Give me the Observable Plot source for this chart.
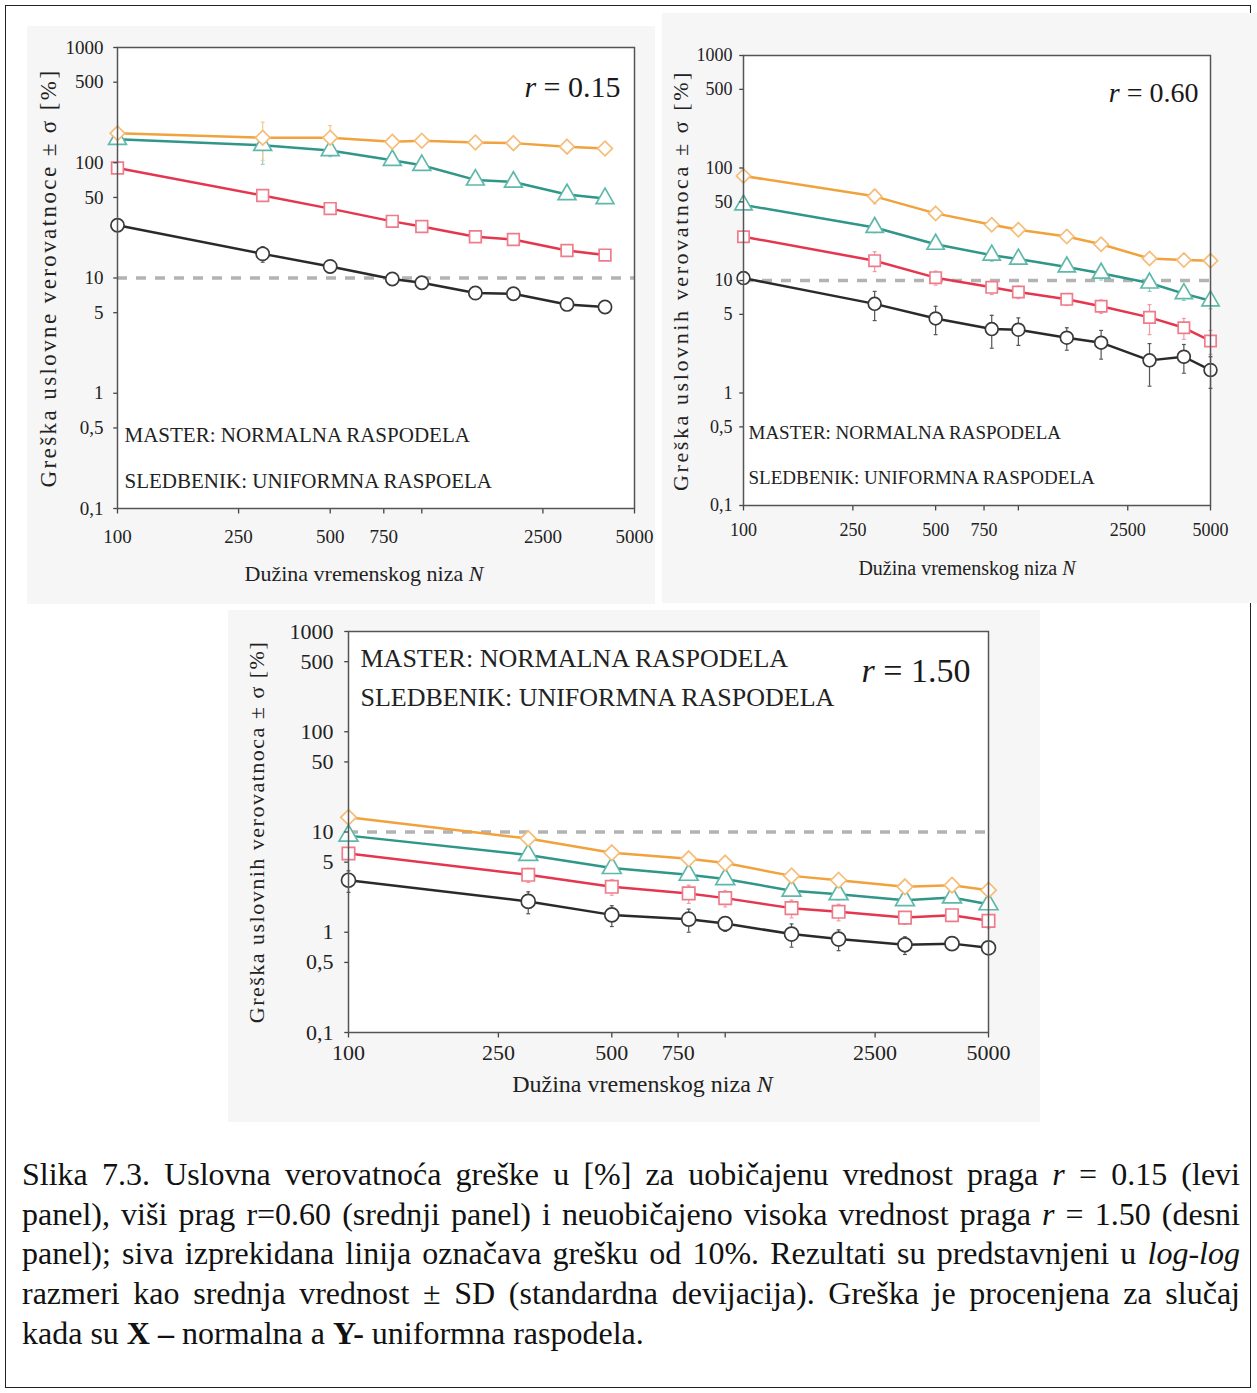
<!DOCTYPE html>
<html><head><meta charset="utf-8">
<script src="https://cdn.jsdelivr.net/npm/d3@7"></script>
<script src="https://cdn.jsdelivr.net/npm/@observablehq/plot@0.6"></script>
<style>
body{margin:0;background:#fff;}
#page{position:relative;width:1257px;height:1393px;overflow:hidden;font-family:"Liberation Serif","Times New Roman",serif;}
#border{position:absolute;left:5px;top:5px;width:1244px;height:1381px;border:1.5px solid #222;}
.panel{position:absolute;}
#caption{position:absolute;left:22px;top:1155px;width:1218px;font-size:32px;line-height:39.7px;color:#111;}
#caption div{white-space:nowrap;}
#caption .j{text-align:justify;text-align-last:justify;}
</style></head>
<body>
<div id="page">
  <div id="border"></div>
  <div id="p1" class="panel" style="left:27px;top:26px;"></div>
  <div id="p2" class="panel" style="left:662px;top:13px;"></div>
  <div id="p3" class="panel" style="left:228px;top:610px;"></div>
  <div id="caption">
    <div class="j">Slika 7.3. Uslovna verovatnoća greške u [%] za uobičajenu vrednost praga <i>r</i> = 0.15 (levi</div>
    <div class="j">panel), viši prag r=0.60 (srednji panel) i neuobičajeno visoka vrednost praga <i>r</i> = 1.50 (desni</div>
    <div class="j">panel); siva izprekidana linija označava grešku od 10%. Rezultati su predstavnjeni u <i>log-log</i></div>
    <div class="j">razmeri kao srednja vrednost ± SD (standardna devijacija). Greška je procenjena za slučaj</div>
    <div>kada su <b>X –</b> normalna a <b>Y-</b> uniformna raspodela.</div>
  </div>
</div>
<script>
// ---------- data ----------
const N_A = [100, 300, 500, 800, 1000, 1500, 2000, 3000, 4000];
const N_B = [100, 300, 500, 800, 1000, 1500, 2000, 3000, 4000, 5000];

const xTicks = [100, 250, 500, 750, 1000, 2500, 5000];
const xTickLabels = ["100", "250", "500", "750", "", "2500", "5000"];
const yTicks = [0.1, 0.5, 1, 5, 10, 50, 100, 500, 1000];
const yTickLabels = ["0,1", "0,5", "1", "5", "10", "50", "100", "500", "1000"];
const threshold = [10];

// r = 0.15
const a_orange = [180, 165, 165, 152, 155, 150, 148, 138, 133];
const a_teal   = [160, 142, 128, 105, 95, 71, 68, 53, 49];
const a_red    = [90, 52, 40, 31, 28, 22.8, 21.6, 17.3, 15.8];
const a_black  = [28.7, 16.2, 12.6, 9.8, 9.1, 7.4, 7.3, 5.9, 5.6];
const a_orange_sd = [15, 60, 45, 15, 12, 12, 10, 10, 10];
const a_teal_sd   = [10, 45, 15, 10, 8, 6, 6, 5, 4];
const a_red_sd    = [8, 4, 3, 2, 2, 1.5, 1.5, 1.2, 1];
const a_black_sd  = [3, 2.5, 1.5, 1, 1, 0.7, 0.7, 0.5, 0.4];

// r = 0.60
const b_orange = [85, 56, 39.5, 31.3, 28.3, 24.6, 21, 15.7, 15.2, 15];
const b_teal   = [47, 29.6, 21, 16.8, 15.5, 13.2, 11.6, 9.5, 7.65, 6.6];
const b_red    = [24.5, 15, 10.6, 8.7, 7.9, 6.8, 5.9, 4.7, 3.8, 2.9];
const b_black  = [10.5, 6.2, 4.6, 3.7, 3.65, 3.1, 2.8, 1.95, 2.1, 1.6];
const b_orange_sd = [6, 8, 4, 3, 3, 2, 2, 1.5, 1.5, 1.5];
const b_teal_sd   = [4, 3, 2, 2, 1.5, 1.2, 1.5, 1.5, 1, 1];
const b_red_sd    = [2, 3, 1.5, 1.2, 1, 0.8, 0.8, 1.4, 0.8, 0.7];
const b_black_sd  = [1, 1.8, 1.3, 1.2, 1, 0.7, 0.8, 0.8, 0.6, 0.5];

// r = 1.50
const c_orange = [14, 8.6, 6.2, 5.4, 4.9, 3.65, 3.3, 2.84, 2.95, 2.63];
const c_teal   = [9.2, 5.9, 4.37, 3.74, 3.39, 2.6, 2.4, 2.09, 2.22, 1.9];
const c_red    = [6.1, 3.74, 2.84, 2.44, 2.19, 1.74, 1.6, 1.4, 1.48, 1.3];
const c_black  = [3.3, 2.03, 1.49, 1.35, 1.22, 0.96, 0.855, 0.75, 0.77, 0.70];
const c_orange_sd = [1, 1, 0.6, 0.5, 0.4, 0.3, 0.3, 0.25, 0.25, 0.25];
const c_teal_sd   = [0.8, 0.7, 0.5, 0.4, 0.35, 0.3, 0.3, 0.2, 0.2, 0.2];
const c_red_sd    = [0.6, 0.6, 0.5, 0.5, 0.4, 0.35, 0.3, 0.2, 0.2, 0.2];
const c_black_sd  = [0.8, 0.5, 0.35, 0.35, 0.2, 0.25, 0.2, 0.15, 0.1, 0.1];

const labelMaster = "MASTER: NORMALNA RASPODELA";
const labelSled1 = "SLEDBENIK: UNIFORMNA RASPOELA";
const labelSled = "SLEDBENIK: UNIFORMNA RASPODELA";
const xLabel = "Dužina vremenskog niza N";
const yLabel1 = "Greška uslovne verovatnoce ± σ [%]";
const yLabel2 = "Greška uslovnih verovatnoca ± σ [%]";

// ---------- styles ----------
const STY = {
  black:  {line: "#2a2a2a", mark: "#3a3a3a", err: "#555555", symbol: "circle"},
  red:    {line: "#e5364f", mark: "#ee7c8a", err: "#f19aa5", symbol: "square"},
  teal:   {line: "#2f9688", mark: "#5fb9aa", err: "#8fd0c5", symbol: "triangle"},
  orange: {line: "#f0a23c", mark: "#f5bd78", err: "#f5c894", symbol: "diamond2"}
};
const capSymbol = {draw(ctx, size) { const w = Math.sqrt(size); ctx.moveTo(-w / 2, 0); ctx.lineTo(w / 2, 0); }};
const tickLeft = {draw(ctx, size) { const w = Math.sqrt(size); ctx.moveTo(-w, 0); ctx.lineTo(0, 0); }};
const tickDown = {draw(ctx, size) { const w = Math.sqrt(size); ctx.moveTo(0, 0); ctx.lineTo(0, w); }};
const FONT = "Liberation Serif";
const TXT = "#222";

function rows(Ns, vals, sds) {
  return Ns.map((n, i) => ({N: n, v: vals[i], sd: sds[i]}));
}

function panel(cfg) {
  const series = [
    ["black", rows(cfg.N, cfg.black, cfg.black_sd)],
    ["red", rows(cfg.N, cfg.red, cfg.red_sd)],
    ["teal", rows(cfg.N, cfg.teal, cfg.teal_sd)],
    ["orange", rows(cfg.N, cfg.orange, cfg.orange_sd)]
  ];
  const marks = [Plot.frame({fill: "white"})];
  marks.push(Plot.ruleY(threshold, {stroke: "#b3b3b3", strokeWidth: 3.5, strokeDasharray: "10,9"}));
  for (const [k, d] of series) {
    const s = STY[k];
    marks.push(Plot.line(d, {x: "N", y: "v", stroke: s.line, strokeWidth: 2.5}));
  }
  for (const [k, d] of series) {
    const s = STY[k];
    marks.push(Plot.ruleX(d, {x: "N", y1: r => Math.max(r.v - r.sd, 0.105), y2: r => r.v + r.sd, stroke: s.err, strokeWidth: 1.2}));
    marks.push(Plot.dot(d, {x: "N", y: r => r.v + r.sd, symbol: capSymbol, r: 2.2, stroke: s.err, fill: "none", strokeWidth: 1.2}));
    marks.push(Plot.dot(d, {x: "N", y: r => Math.max(r.v - r.sd, 0.105), symbol: capSymbol, r: 2.2, stroke: s.err, fill: "none", strokeWidth: 1.2}));
  }
  for (const [k, d] of series) {
    const s = STY[k];
    marks.push(Plot.dot(d, {x: "N", y: "v", symbol: s.symbol, r: cfg.r, fill: "white", stroke: s.mark, strokeWidth: 1.7}));
  }
  // axes (manual ticks + labels)
  marks.push(Plot.dot(xTicks, {x: d => d, frameAnchor: "bottom", symbol: tickDown, r: 2.8, stroke: "#444", fill: "none", strokeWidth: 1.3}));
  marks.push(Plot.dot(yTicks, {y: d => d, frameAnchor: "left", symbol: tickLeft, r: 2.4, stroke: "#444", fill: "none", strokeWidth: 1.3}));
  marks.push(Plot.text(xTicks, {x: d => d, text: (d, i) => xTickLabels[i], frameAnchor: "bottom", lineAnchor: "top", dy: cfg.xPad, fontSize: cfg.tickFont, fontFamily: FONT, fill: TXT}));
  marks.push(Plot.text(yTicks, {y: d => d, text: (d, i) => yTickLabels[i], frameAnchor: "left", textAnchor: "end", dx: -cfg.yPad, fontSize: cfg.tickFont, fontFamily: FONT, fill: TXT}));
  // texts
  marks.push(Plot.text([cfg.yLabel], {text: d => d, frameAnchor: "left", textAnchor: "middle", rotate: -90, dx: cfg.yLabDx, fontSize: cfg.yLabFont, fontFamily: FONT, fill: TXT}));
  marks.push(Plot.text([xLabel], {text: d => d, frameAnchor: "bottom", textAnchor: "middle", dx: cfg.xLabDx, dy: cfg.xLabDy, fontSize: cfg.xLabFont, fontFamily: FONT, fill: TXT}));
  marks.push(Plot.text([labelMaster], {text: d => d, frameAnchor: cfg.annAnchor, textAnchor: "start", dx: cfg.annDx, dy: cfg.annDy1, fontSize: cfg.annFont, fontFamily: FONT, fill: TXT}));
  marks.push(Plot.text([cfg.sled], {text: d => d, frameAnchor: cfg.annAnchor, textAnchor: "start", dx: cfg.annDx, dy: cfg.annDy2, fontSize: cfg.annFont, fontFamily: FONT, fill: TXT}));
  marks.push(Plot.text([cfg.rText], {text: d => d, frameAnchor: "top-right", textAnchor: "end", dx: cfg.rDx, dy: cfg.rDy, fontSize: cfg.rFont, fontFamily: FONT, fill: "#1a1a1a"}));
  marks.push(Plot.frame({stroke: "#555", strokeWidth: 1.5}));

  const svg = Plot.plot({
    width: cfg.width, height: cfg.height,
    marginLeft: cfg.ml, marginRight: cfg.mr, marginTop: cfg.mt, marginBottom: cfg.mb,
    x: {type: "log", domain: [100, 5000], axis: null},
    y: {type: "log", domain: [0.1, 1000], axis: null},
    style: {fontFamily: FONT, background: "#f6f6f6", overflow: "visible"},
    marks
  });
  d3.select(svg).selectAll("text").each(function() {
    const t = this.textContent;
    const sel = d3.select(this);
    if (t.startsWith("r = ")) {
      this.textContent = "";
      sel.append("tspan").attr("font-style", "italic").text("r");
      sel.append("tspan").text(" = " + t.slice(4));
    } else if (t === xLabel) {
      this.textContent = "";
      sel.append("tspan").text("Dužina vremenskog niza ");
      sel.append("tspan").attr("font-style", "italic").text("N");
    } else if (t.startsWith("Greška")) {
      sel.attr("letter-spacing", cfg.yLabSpacing);
    }
  });
  document.getElementById(cfg.id).appendChild(svg);
}

panel({
  id: "p1", N: N_A,
  orange: a_orange, teal: a_teal, red: a_red, black: a_black,
  orange_sd: a_orange_sd, teal_sd: a_teal_sd, red_sd: a_red_sd, black_sd: a_black_sd,
  width: 628, height: 578, ml: 90, mr: 21, mt: 21, mb: 96,
  r: 6.6, tickFont: 19, xPad: 21, yPad: 14,
  yLabel: yLabel1, yLabDx: -69, yLabFont: 23, yLabSpacing: 2.4,
  xLabDx: -12, xLabDy: 72, xLabFont: 22,
  annAnchor: "bottom-left", annDx: 7, annDy1: -67, annDy2: -21, annFont: 21, sled: labelSled1,
  rText: "r = 0.15", rDx: -14, rDy: 28, rFont: 30
});
panel({
  id: "p2", N: N_B,
  orange: b_orange, teal: b_teal, red: b_red, black: b_black,
  orange_sd: b_orange_sd, teal_sd: b_teal_sd, red_sd: b_red_sd, black_sd: b_black_sd,
  width: 595, height: 590, ml: 81, mr: 47, mt: 42, mb: 98,
  r: 6.4, tickFont: 18, xPad: 18, yPad: 11,
  yLabel: yLabel2, yLabDx: -63, yLabFont: 22, yLabSpacing: 2.6,
  xLabDx: -10, xLabDy: 69, xLabFont: 20,
  annAnchor: "bottom-left", annDx: 5, annDy1: -67, annDy2: -22, annFont: 19, sled: labelSled,
  rText: "r = 0.60", rDx: -12, rDy: 27, rFont: 28
});
panel({
  id: "p3", N: N_B,
  orange: c_orange, teal: c_teal, red: c_red, black: c_black,
  orange_sd: c_orange_sd, teal_sd: c_teal_sd, red_sd: c_red_sd, black_sd: c_black_sd,
  width: 812, height: 512, ml: 120, mr: 52, mt: 21, mb: 90,
  r: 7, tickFont: 22, xPad: 12, yPad: 15,
  yLabel: yLabel2, yLabDx: -92, yLabFont: 22, yLabSpacing: 1.5,
  xLabDx: -26, xLabDy: 59, xLabFont: 24,
  annAnchor: "top-left", annDx: 12, annDy1: 17, annDy2: 56, annFont: 26, sled: labelSled,
  rText: "r = 1.50", rDx: -18, rDy: 26, rFont: 34
});
</script>
</body></html>
